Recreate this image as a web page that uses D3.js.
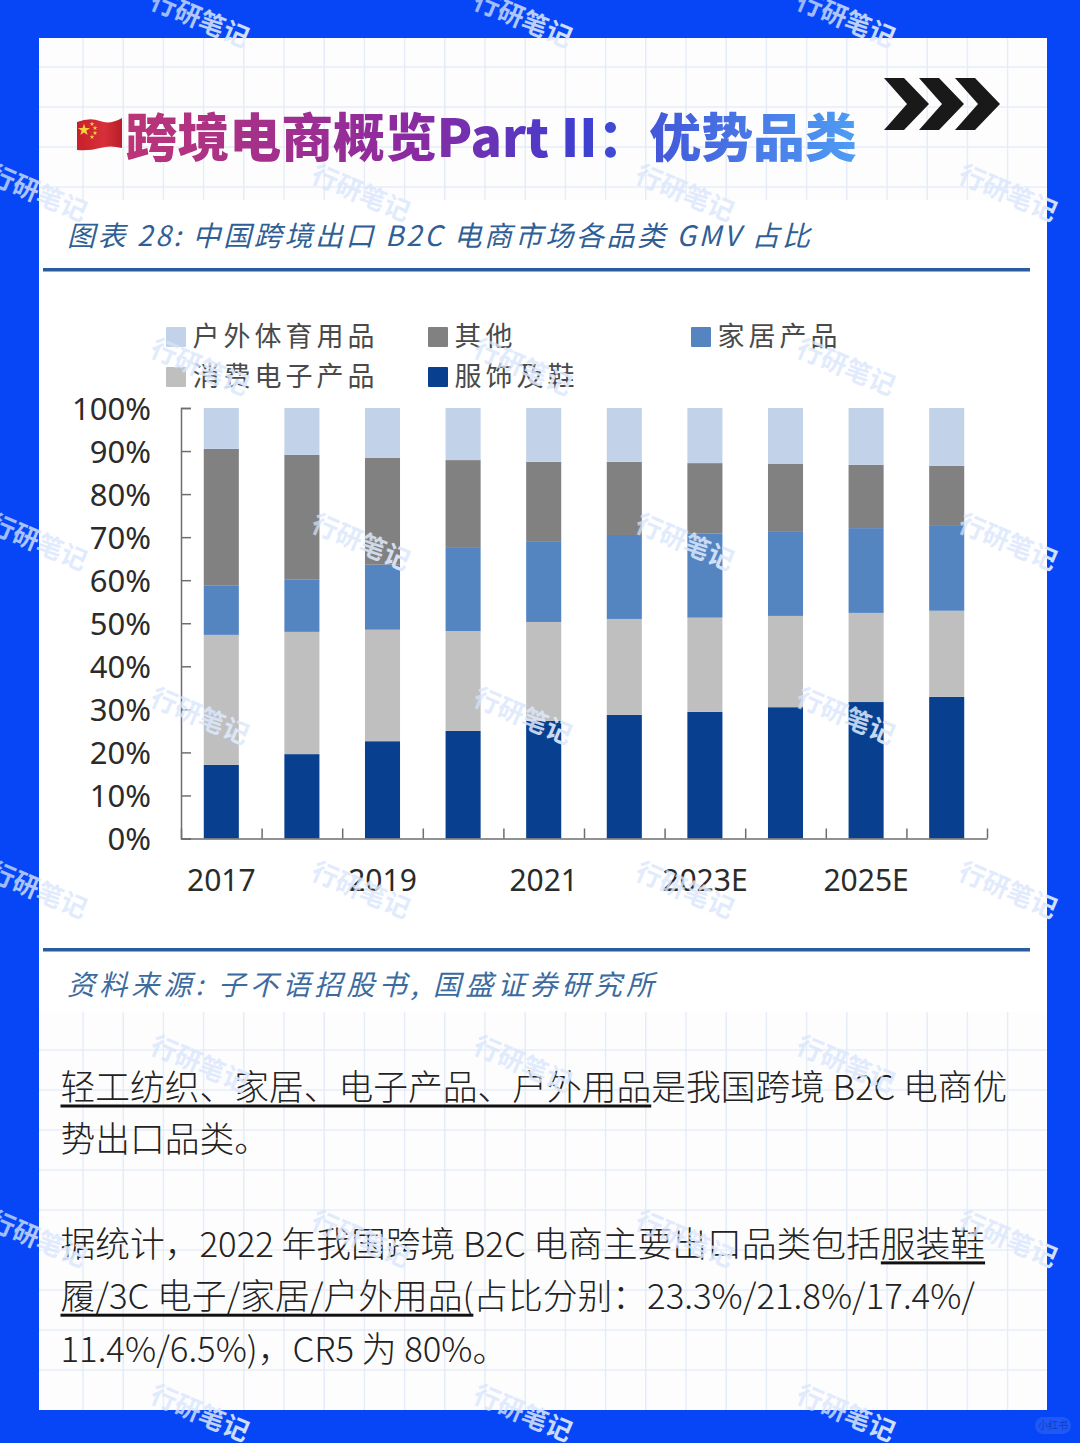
<!DOCTYPE html>
<html lang="zh">
<head>
  <meta charset="UTF-8">
  <title>跨境电商概览 Part II</title>
  <style>
    body { margin: 0; background: #0646f6; overflow: hidden; }
    svg { display: block; }
    text { font-family: "Noto Sans CJK SC", "Noto Sans", sans-serif; }
    .num { font-family: "Noto Sans", sans-serif; fill: #2b2b2b; font-size: 31px; }
  </style>
</head>
<body>
  <svg width="1080" height="1443"></svg>
  <script src="https://d3js.org/d3.v7.min.js"></script>
  <script>
    // 数据：从图上读出来的各品类占比（%）
    const years = ["2017", "2018", "2019", "2020", "2021", "2022", "2023E", "2024E", "2025E", "2026E"];
    const shownYears = ["2017", "2019", "2021", "2023E", "2025E"];
    const apparel = [17.1, 19.6, 22.6, 25.0, 27.3, 28.7, 29.4, 30.5, 31.7, 32.9];
    const electronics = [30.2, 28.4, 25.9, 23.2, 23.0, 22.3, 21.9, 21.2, 20.7, 20.0];
    const home = [11.4, 12.1, 15.1, 19.3, 18.6, 19.5, 19.5, 19.7, 19.7, 19.9];
    const others = [31.8, 29.0, 24.8, 20.4, 18.6, 17.0, 16.4, 15.6, 14.7, 13.8];
    const outdoor = [9.5, 10.9, 11.6, 12.1, 12.5, 12.5, 12.8, 13.0, 13.2, 13.4];

    const seriesNames = ["服饰及鞋", "消费电子产品", "家居产品", "其他", "户外体育用品"];
    const seriesValues = [apparel, electronics, home, others, outdoor];
    const seriesColors = ["#08408f", "#bfbfbf", "#5485c1", "#818181", "#c2d3e9"];
    const yTicks = [0, 10, 20, 30, 40, 50, 60, 70, 80, 90, 100];

    const titleText = "跨境电商概览Part II：优势品类";
    const subtitleText = "图表 28:  中国跨境出口 B2C 电商市场各品类 GMV 占比";
    const sourceText = "资料来源:  子不语招股书,  国盛证券研究所";
    // 正文每行一组 [文字, 是否下划线]
    const bodyLines = [
      [["轻工纺织、家居、电子产品、户外用品", true], ["是我国跨境 B2C 电商优", false]],
      [["势出口品类。", false]],
      [],
      [["据统计，2022 年我国跨境 B2C 电商主要出口品类包括", false], ["服装鞋", true]],
      [["履/3C 电子/家居/户外用品(", true], ["占比分别：23.3%/21.8%/17.4%/", false]],
      [["11.4%/6.5%)，CR5 为 80%。", false]]
    ];

    const svg = d3.select("svg");
    const defs = svg.append("defs");

    // 背景：纸张 + 中间白色截图
    svg.append("rect").attr("x", 39).attr("y", 38).attr("width", 1008).attr("height", 1372)
      .attr("fill", "#fdfdfe");

    const grid = svg.append("g").attr("stroke", "#e6edf8").attr("stroke-width", 1.5);
    function drawGrid(y0, y1, gridYs) {
      grid.selectAll(null).data(d3.range(83, 1047, 40.2)).enter().append("line")
        .attr("x1", d => d).attr("x2", d => d).attr("y1", y0).attr("y2", y1);
      grid.selectAll(null).data(gridYs).enter().append("line")
        .attr("x1", 39).attr("x2", 1047).attr("y1", d => d).attr("y2", d => d);
    }
    drawGrid(38, 200, d3.range(67, 200, 40));
    drawGrid(1012, 1410, d3.range(1050, 1410, 40));

    svg.append("rect").attr("x", 39).attr("y", 200).attr("width", 1008).attr("height", 812)
      .attr("fill", "#fff");

    // 标题
    const titleGrad = defs.append("linearGradient").attr("id", "titleGrad")
      .attr("gradientUnits", "userSpaceOnUse")
      .attr("x1", 127).attr("x2", 855).attr("y1", 0).attr("y2", 0);
    [[0, "#bb3577"], [0.4, "#8a2aa2"], [0.62, "#3f3ed0"], [1, "#4f9cf3"]].forEach(s => {
      titleGrad.append("stop").attr("offset", s[0]).attr("stop-color", s[1]);
    });
    svg.append("text").attr("x", 125.5).attr("y", 157)
      .attr("font-size", 51.9).attr("font-weight", 900)
      .attr("fill", "url(#titleGrad)").text(titleText);

    // 国旗
    const flagGrad = defs.append("linearGradient").attr("id", "flagGrad")
      .attr("x1", 0).attr("x2", 1).attr("y1", 0).attr("y2", 0);
    flagGrad.append("stop").attr("offset", 0).attr("stop-color", "#c8202a");
    flagGrad.append("stop").attr("offset", 0.6).attr("stop-color", "#d8303a");
    flagGrad.append("stop").attr("offset", 1).attr("stop-color", "#b81e28");
    svg.append("path")
      .attr("d", "M77 122 Q90 117 100 121 T122 118 L122 148 Q110 145 100 148 T77 150 Z")
      .attr("fill", "url(#flagGrad)");
    const starGen = d3.symbol().type(d3.symbolStar);
    [[84, 130, 45], [92, 124, 7], [95, 128, 7], [95, 133, 7], [92, 137, 7]].forEach(s => {
      svg.append("path").attr("d", starGen.size(s[2])())
        .attr("transform", `translate(${s[0]},${s[1]})`).attr("fill", "#f7d23e");
    });

    // 右上角箭头
    [884, 919, 955].forEach(x => {
      svg.append("path")
        .attr("d", `M${x} 78 L${x + 20} 78 L${x + 45} 104 L${x + 20} 130 L${x} 130 L${x + 23} 104 Z`)
        .attr("fill", "#191919");
    });

    // 图表标题和来源
    svg.append("text").attr("x", 67).attr("y", 246)
      .attr("font-size", 28).attr("font-style", "italic").attr("fill", "#2f5f95")
      .attr("textLength", 743).attr("lengthAdjust", "spacing")
      .text(subtitleText);
    svg.append("rect").attr("x", 43).attr("y", 268).attr("width", 987).attr("height", 3.5).attr("fill", "#2a5d9d");
    svg.append("rect").attr("x", 43).attr("y", 948).attr("width", 987).attr("height", 3.5).attr("fill", "#2a5d9d");
    svg.append("text").attr("x", 67).attr("y", 995)
      .attr("font-size", 28).attr("font-style", "italic").attr("fill", "#3c6ba0")
      .attr("textLength", 587).attr("lengthAdjust", "spacing")
      .text(sourceText);

    // 比例尺
    const x = d3.scaleBand().domain(years).range([181, 987]).paddingInner(0.565).paddingOuter(0.2825);
    const xEdges = d3.scaleLinear().domain([0, years.length]).range([181, 987]);
    const y = d3.scaleLinear().domain([0, 100]).range([838.5, 408]);

    // 堆叠柱
    const rows = years.map((yr, i) => {
      const row = { year: yr };
      seriesNames.forEach((name, k) => { row[name] = seriesValues[k][i]; });
      return row;
    });
    const stacked = d3.stack().keys(seriesNames)(rows);
    svg.append("g").selectAll("g").data(stacked).enter().append("g")
      .attr("fill", (d, i) => seriesColors[i])
      .selectAll("rect").data(d => d).enter().append("rect")
      .attr("x", d => x(d.data.year))
      .attr("width", x.bandwidth())
      .attr("y", d => y(d[1]))
      .attr("height", d => y(d[0]) - y(d[1]));

    // 坐标轴
    const yAxis = svg.append("g").attr("transform", "translate(181,0)")
      .call(d3.axisLeft(y).tickValues(yTicks).tickFormat(d => d + "%")
        .tickSize(-10).tickSizeOuter(-10).tickPadding(30));
    yAxis.selectAll("text").attr("class", "num").attr("dy", "0.36em");
    yAxis.selectAll("line, path").attr("stroke", "#6e6e6e").attr("stroke-width", 1.5);

    const xTicks = svg.append("g").attr("transform", "translate(0,838.5)")
      .call(d3.axisBottom(xEdges).ticks(years.length).tickFormat("")
        .tickSize(-10).tickSizeOuter(0));
    xTicks.selectAll("line, path").attr("stroke", "#6e6e6e").attr("stroke-width", 1.5);

    const xLabels = svg.append("g").attr("transform", "translate(0,838.5)")
      .call(d3.axisBottom(x).tickValues(shownYears).tickSize(0).tickPadding(31));
    xLabels.select(".domain").remove();
    xLabels.selectAll("text").attr("class", "num").style("font-size", "30px");

    // 图例
    const legendOrder = ["户外体育用品", "其他", "家居产品", "消费电子产品", "服饰及鞋"];
    const legendX = d3.scaleOrdinal().domain(legendOrder).range([166, 428, 691, 166, 428]);
    const legendY = d3.scaleOrdinal().domain(legendOrder).range([327, 327, 327, 367, 367]);
    const legend = svg.append("g").selectAll("g").data(legendOrder).enter().append("g")
      .attr("transform", d => `translate(${legendX(d)},${legendY(d)})`);
    legend.append("rect").attr("width", 20).attr("height", 20).attr("rx", 1)
      .attr("fill", d => seriesColors[seriesNames.indexOf(d)]);
    legend.append("text").attr("x", 26.5).attr("y", 19)
      .attr("font-size", 27).attr("letter-spacing", 4).attr("fill", "#4a4a4a")
      .text(d => d);

    // 正文
    const lineY = d3.scaleLinear().domain([0, 5]).range([1100, 1361.5]);
    bodyLines.forEach((segs, i) => {
      let cx = 60.5;
      segs.forEach(seg => {
        const t = svg.append("text").attr("x", cx).attr("y", lineY(i))
          .attr("font-size", 34.75).attr("font-weight", 300).attr("fill", "#222").text(seg[0]);
        const w = t.node().getComputedTextLength();
        if (seg[1]) {
          svg.append("rect").attr("x", cx).attr("y", lineY(i) + 4.5).attr("width", w).attr("height", 3)
            .attr("fill", "#111");
        }
        cx += w;
      });
    });

    // 水印
    const wmGrad = defs.append("linearGradient").attr("id", "wmGrad")
      .attr("x1", 0).attr("x2", 1).attr("y1", 0).attr("y2", 0);
    wmGrad.append("stop").attr("offset", 0).attr("stop-color", "#d5e3fb").attr("stop-opacity", 0.7);
    wmGrad.append("stop").attr("offset", 1).attr("stop-color", "#dfeafc").attr("stop-opacity", 0.95);
    const wmA = d3.cross([200, 523, 846], [19, 367, 716, 1064, 1413]);
    const wmB = d3.cross([38, 361, 685, 1008], [193, 542, 890, 1239]);
    svg.append("g").selectAll("text").data(wmA.concat(wmB)).enter().append("text")
      .attr("transform", d => `translate(${d[0]},${d[1]}) rotate(23)`)
      .attr("text-anchor", "middle").attr("dy", "0.36em")
      .attr("font-size", 26).attr("font-weight", 700)
      .attr("fill", "url(#wmGrad)")
      .text("行研笔记");

    // 右下角小标记
    svg.append("rect").attr("x", 1035).attr("y", 1417).attr("width", 36).attr("height", 17).attr("rx", 8.5)
      .attr("fill", "#fff").attr("opacity", 0.1);
    svg.append("text").attr("x", 1053).attr("y", 1429).attr("text-anchor", "middle")
      .attr("font-size", 10).attr("fill", "#0a3fc8").text("小红书");
  </script>
</body>
</html>
